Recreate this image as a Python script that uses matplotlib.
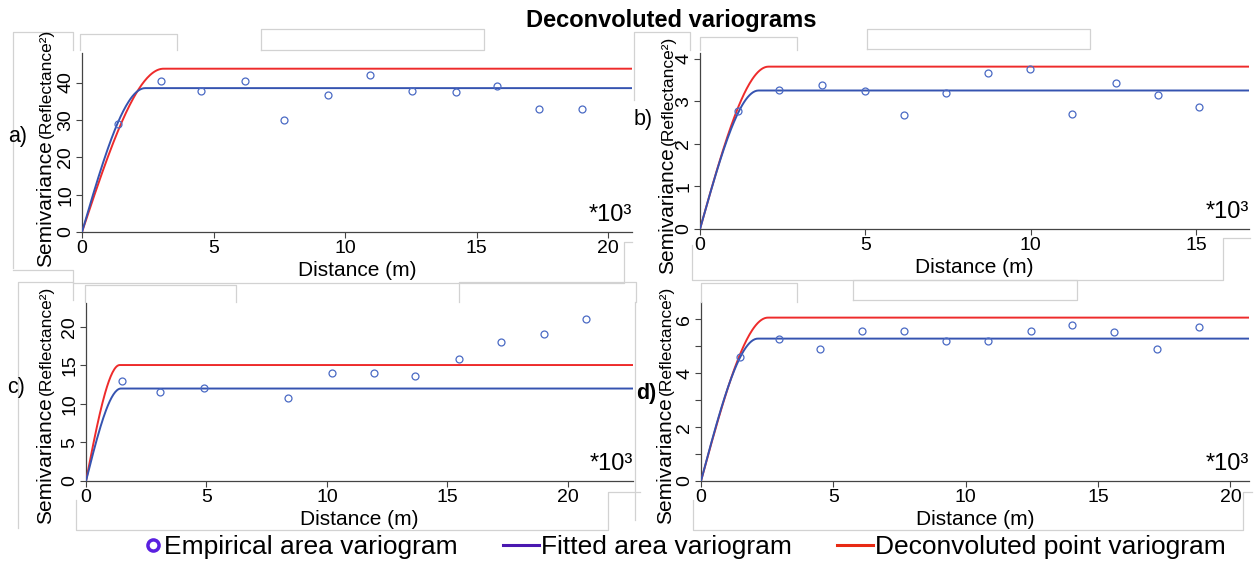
import matplotlib
matplotlib.use("Agg")
import matplotlib.pyplot as plt
import numpy as np
from matplotlib.lines import Line2D
from matplotlib.legend_handler import HandlerLine2D

plt.rcParams['font.family'] = ['Liberation Sans', 'DejaVu Sans']

W, H = 1258, 562

# ---------------- data ----------------
lags_a = [1.35, 3.0, 4.52, 6.19, 7.68, 9.36, 10.94, 12.55, 14.21, 15.76, 17.38, 19.01]
gamma_a = [28.8, 40.4, 37.6, 40.5, 30.0, 36.7, 41.9, 37.8, 37.4, 39.2, 32.8, 32.8]
lags_b = [1.14, 2.38, 3.70, 4.98, 6.17, 7.43, 8.70, 9.98, 11.24, 12.57, 13.84, 15.08]
gamma_b = [2.76, 3.26, 3.37, 3.25, 2.68, 3.19, 3.65, 3.76, 2.71, 3.43, 3.15, 2.87]
lags_c = [1.48, 3.09, 4.89, 8.39, 10.2, 11.94, 13.67, 15.47, 17.22, 19.0, 20.73]
gamma_c = [13.0, 11.6, 12.1, 10.8, 14.06, 14.0, 13.67, 15.88, 18.09, 19.05, 21.04]
lags_d = [1.47, 2.94, 4.48, 6.09, 7.67, 9.24, 10.83, 12.47, 14.03, 15.6, 17.23, 18.83]
gamma_d = [4.59, 5.27, 4.91, 5.56, 5.57, 5.21, 5.21, 5.57, 5.80, 5.55, 4.91, 5.71]

# fitted spherical model parameters (sill, range) per panel
fit_sill = [38.5, 3.25, 12.0, 5.29]
fit_range = [2.4, 1.77, 1.45, 2.15]
dec_sill = [43.7, 3.81, 15.05, 6.07]
dec_range = [3.1, 2.07, 1.4, 2.53]

panel_names = ['a)', 'b)', 'c)', 'd)']
x_ticks = [[0, 5, 10, 15, 20], [0, 5, 10, 15], [0, 5, 10, 15, 20], [0, 5, 10, 15, 20]]
y_ticks = [[0, 10, 20, 30, 40], [0, 1, 2, 3, 4], [0, 5, 10, 15, 20], [0, 2, 4, 6]]
legend_labels = ['Empirical area variogram', 'Fitted area variogram', 'Deconvoluted point variogram']

lags = [lags_a, lags_b, lags_c, lags_d]
gammas = [gamma_a, gamma_b, gamma_c, gamma_d]

# ---------------- layout ----------------
# axes boxes in pixels: left, right, top, bottom
boxes = [(82, 632, 53, 232), (700, 1249, 53, 229), (86, 633, 303, 481), (701, 1249, 302, 481)]
xlims = [20.9, 16.6, 22.7, 20.7]
ylims = [47.9, 4.13, 23.1, 6.65]

RED = '#ee2b2b'
BLUE = '#3553b0'
PT = '#4a6ac4'


def spherical(h, sill, rng):
    r = np.minimum(h / rng, 1.0)
    return sill * (1.5 * r - 0.5 * r ** 3)


class RightMarker(HandlerLine2D):
    """Legend handler placing a lone marker near the right end of the handle."""
    def get_xdata(self, legend, xdescent, ydescent, width, height, fontsize):
        x = -xdescent + width - 6.5
        return np.array([x - 0.5, x + 0.5]), np.array([x])


fig = plt.figure(figsize=(W / 100, H / 100), dpi=100)
fig.patch.set_facecolor('white')


def ftext(x, y, s, **kw):
    return fig.text(x / W, 1 - y / H, s, **kw)


def fline(pts, **kw):
    xs = [p[0] / W for p in pts]
    ys = [1 - p[1] / H for p in pts]
    fig.add_artist(Line2D(xs, ys, transform=fig.transFigure, **kw))


# light grey frame fragments of the composite figure
gkw = dict(color='#d2d2d2', lw=0.9)
frames = [
    [(13, 268), (13, 32), (73, 32), (73, 50)],
    [(80, 50), (80, 34), (177, 34), (177, 50)],
    [(261, 50), (261, 29), (484, 29), (484, 50), (261, 50)],
    [(13, 270), (73, 270), (73, 283), (624, 283), (624, 242), (632, 242)],
    [(634, 100), (634, 32), (690, 32), (690, 50)],
    [(700, 50), (700, 37), (797, 37), (797, 50)],
    [(867, 49), (867, 29), (1090, 29), (1090, 49), (867, 49)],
    [(692, 245), (692, 280), (1223, 280), (1223, 238), (1250, 238)],
    [(18, 528), (18, 282), (73, 282), (73, 300)],
    [(85, 302), (85, 285), (236, 285), (236, 302)],
    [(459, 302), (459, 282), (636, 282), (636, 302)],
    [(76, 500), (76, 530), (608, 530), (608, 492), (640, 492)],
    [(635, 302), (635, 520)],
    [(701, 302), (701, 283), (797, 283), (797, 302)],
    [(853, 300), (853, 280), (1077, 280), (1077, 300), (853, 300)],
    [(693, 500), (693, 530), (1243, 530), (1243, 492), (1252, 492)],
]
for f in frames:
    fline(f, **gkw)

for i in range(4):
    l, r, t, b = boxes[i]
    ax = fig.add_axes([l / W, 1 - b / H, (r - l) / W, (b - t) / H])
    ax.set_facecolor('none')
    h = np.linspace(0, xlims[i], 600)
    ax.plot(h, spherical(h, dec_sill[i], dec_range[i]), color=RED, lw=1.4, zorder=3)
    ax.plot(h, spherical(h, fit_sill[i], fit_range[i]), color=BLUE, lw=1.4, zorder=4)
    ax.plot(lags[i], gammas[i], ls='none', marker='o', ms=5, mfc='none',
            mec=PT, mew=0.9, zorder=5)
    ax.set_xlim(0, xlims[i])
    ax.set_ylim(0, ylims[i])
    ax.set_xticks(x_ticks[i])
    ax.set_yticks(y_ticks[i])
    if i == 3:
        ax.set_yticks(np.arange(0, 7, 1), minor=True)
        ax.tick_params(axis='y', which='minor', direction='out', length=4,
                       width=0.8, color='#444444')
    for s in ['top', 'right']:
        ax.spines[s].set_visible(False)
    for s in ['left', 'bottom']:
        ax.spines[s].set_color('#444444')
        ax.spines[s].set_linewidth(0.9)
    ax.tick_params(axis='both', which='major', direction='out', length=4,
                   width=0.8, color='#444444', labelsize=14, pad=1.5)
    plt.setp(ax.get_yticklabels(), rotation=90, va='center')
    ax.set_xlabel('Distance (m)', fontsize=15, labelpad=3)
    ax.text(1.0, 0.035, '*10³', transform=ax.transAxes, ha='right',
            va='bottom', fontsize=17)

# y-axis labels and panel labels
ylab_pos = [(46, 204, 83), (668, 211, 90), (46, 461, 340), (666, 461, 340)]
for (x, ys, yr) in ylab_pos:
    ftext(x, ys, 'Semivariance', rotation=90, ha='center', va='center', fontsize=15)
    ftext(x, yr, '(Reflectance²)', rotation=90, ha='center', va='center', fontsize=12.5)

lab_pos = [(18, 137), (643, 119), (16, 388), (646, 393)]
for k, (x, y) in enumerate(lab_pos):
    ftext(x, y, panel_names[k], ha='center', va='center', fontsize=15.5,
          fontweight='bold' if k == 3 else 'normal')

ftext(671, 20, 'Deconvoluted variograms', ha='center', va='center',
      fontsize=17, fontweight='bold')

handles = [
    Line2D([], [], ls='none', marker='o', ms=8, mfc='none', mec='#5a20e0', mew=2.5),
    Line2D([], [], color='#4a18b0', lw=2.2),
    Line2D([], [], color='#e82a14', lw=2.2),
]
fig.legend(handles, legend_labels, loc='center right', bbox_to_anchor=(1226 / W, 1 - 547 / H),
           ncol=3, frameon=False, fontsize=19, handlelength=1.35, handletextpad=0.1,
           columnspacing=1.7, borderpad=0, borderaxespad=0,
           handler_map={handles[0]: RightMarker()})

fig.savefig('out.png', dpi=100, facecolor='white')
